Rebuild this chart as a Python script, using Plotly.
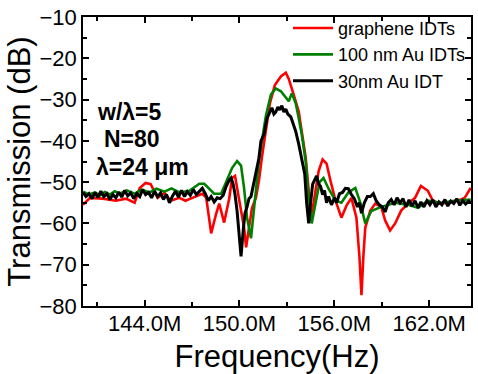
import numpy as np
import plotly.graph_objects as go

# ---- data (frequency in MHz, transmission in dB) ----
red_f = [140.10, 140.54, 141.36, 142.18, 142.81, 143.37, 143.69, 144.06, 144.38, 144.82,
         145.26, 145.64, 146.20, 146.58, 147.02, 147.65, 147.90, 148.21, 148.53, 148.72,
         149.03, 149.35, 149.53, 149.72, 149.97, 150.29, 150.42, 150.60, 150.79, 151.04,
         151.23, 151.42, 151.67, 151.92, 152.24, 152.62, 152.93, 153.12, 153.43, 153.75,
         153.94, 154.19, 154.38, 154.50, 154.69, 155.01, 155.26, 155.51, 155.76, 156.08,
         156.45, 156.77, 157.08, 157.40, 157.59, 157.72, 157.84, 157.96, 158.28, 158.59,
         158.97, 159.22, 159.53, 159.85, 160.23, 160.67, 161.11, 161.48, 161.92, 162.24,
         162.68, 163.18, 163.81, 164.25, 164.63]
red_db = [-55.5, -53.8, -54.0, -54.5, -54.0, -55.0, -51.4, -50.2, -50.5, -53.8,
          -52.6, -54.5, -53.8, -54.5, -53.8, -52.8, -53.8, -62.4, -57.6, -55.2,
          -59.8, -54.0, -49.0, -48.5, -54.0, -61.0, -65.8, -61.3, -56.3, -53.8,
          -49.7, -44.0, -38.0, -31.0, -26.5, -24.4, -23.5, -25.0, -28.8, -32.9,
          -37.7, -44.0, -52.0, -58.5, -55.0, -47.3, -44.5, -45.5, -49.7, -54.5,
          -58.6, -55.7, -53.8, -58.6, -68.0, -77.4, -68.0, -61.0, -56.9, -55.2,
          -56.0, -59.3, -61.7, -60.0, -56.9, -55.2, -53.8, -50.9, -52.1, -54.5,
          -55.2, -55.0, -54.5, -53.8, -51.4]

green_f = [140.10, 140.48, 140.86, 141.17, 141.48, 141.80, 142.11, 142.43, 142.87, 143.37,
           143.81, 144.31, 144.75, 145.26, 145.70, 146.20, 146.83, 147.46, 147.77, 148.09,
           148.40, 148.84, 149.16, 149.53, 149.85, 150.10, 150.29, 150.48, 150.73, 150.86,
           151.04, 151.23, 151.42, 151.67, 151.99, 152.30, 152.62, 152.93, 153.12, 153.31,
           153.56, 153.75, 153.94, 154.19, 154.38, 154.57, 154.82, 155.07, 155.32, 155.64,
           156.08, 156.45, 156.89, 157.33, 157.65, 157.96, 158.34, 158.97, 159.85, 160.67,
           161.30, 161.92, 162.74, 163.62, 164.63]
green_db = [-52.3, -53.0, -52.5, -53.2, -52.4, -53.0, -52.2, -52.8, -52.0, -52.8,
            -51.8, -52.5, -51.6, -52.3, -51.5, -52.5, -52.1, -50.4, -50.4, -51.6,
            -52.8, -52.8, -49.7, -46.6, -44.9, -46.0, -51.4, -58.6, -63.6, -59.0,
            -51.4, -44.9, -40.0, -34.0, -28.8, -27.3, -28.0, -29.5, -30.4, -28.5,
            -30.9, -34.5, -38.4, -45.0, -54.0, -60.0, -55.0, -50.0, -49.0, -51.6,
            -54.5, -55.0, -52.5, -51.4, -55.0, -60.0, -57.0, -56.0, -55.0, -55.5,
            -56.2, -54.5, -55.0, -54.5, -54.2]

black_f = [140.10, 140.29, 140.48, 140.67, 140.86, 141.04, 141.23, 141.42, 141.61, 141.80,
           141.99, 142.18, 142.36, 142.55, 142.74, 142.93, 143.12, 143.31, 143.50, 143.69,
           143.87, 144.06, 144.25, 144.44, 144.63, 144.82, 145.01, 145.19, 145.38, 145.57,
           145.76, 145.95, 146.14, 146.33, 146.52, 146.70, 146.89, 147.08, 147.27, 147.46,
           147.65, 147.84, 148.03, 148.21, 148.40, 148.59, 148.78, 148.97, 149.16, 149.35,
           149.47, 149.60, 149.72, 149.85, 149.97, 150.10, 150.23, 150.35, 150.48, 150.60,
           150.73, 150.86, 151.04, 151.23, 151.36, 151.55, 151.74, 151.92, 152.05, 152.18,
           152.30, 152.43, 152.55, 152.68, 152.81, 152.93, 153.06, 153.25, 153.43, 153.56,
           153.75, 153.94, 154.13, 154.25, 154.38, 154.50, 154.63, 154.75, 154.88, 155.01,
           155.13, 155.26, 155.38, 155.51, 155.64, 155.82, 156.01, 156.14, 156.33, 156.52,
           156.70, 156.89, 157.08, 157.27, 157.46, 157.59, 157.72, 157.90, 158.09, 158.28,
           158.47, 158.65, 158.84, 159.03, 159.22, 159.41, 159.60, 159.79, 159.97, 160.16,
           160.35, 160.54, 160.73, 160.92, 161.11, 161.30, 161.48, 161.67, 161.86, 162.05,
           162.24, 162.43, 162.62, 162.81, 163.00, 163.18, 163.37, 163.56, 163.75, 163.94,
           164.13, 164.31, 164.50, 164.63]
black_db = [-52.5, -53.5, -52.8, -54.0, -52.5, -53.7, -52.2, -53.5, -52.8, -54.2,
            -53.0, -53.8, -52.4, -53.6, -52.0, -53.3, -52.6, -54.0, -52.8, -53.5,
            -51.8, -53.0, -52.5, -53.8, -52.2, -53.5, -52.6, -54.2, -53.0, -55.0,
            -53.4, -52.2, -53.6, -52.0, -53.5, -52.3, -53.2, -51.8, -53.0, -52.2,
            -51.5, -52.8, -54.5, -53.5, -54.8, -53.8, -54.0, -53.2, -51.0, -49.5,
            -49.0, -50.5, -53.0, -57.0, -63.0, -68.0, -62.0, -57.5, -56.0, -54.0,
            -53.5, -51.0, -48.0, -44.2, -40.0, -38.5, -34.5, -33.0, -32.0, -33.5,
            -33.0, -31.8, -32.5, -31.5, -33.0, -32.3, -33.5, -34.2, -36.0, -37.7,
            -40.8, -44.9, -48.0, -55.0, -60.0, -55.0, -50.5, -49.5, -48.5, -50.5,
            -51.0, -53.0, -52.0, -55.0, -53.5, -55.5, -53.8, -55.0, -52.8, -52.5,
            -51.5, -51.6, -53.0, -54.0, -56.0, -55.0, -57.5, -55.0, -53.5, -53.5,
            -52.8, -54.5, -55.5, -56.0, -57.2, -55.0, -54.2, -55.5, -53.8, -55.0,
            -54.0, -56.0, -54.3, -55.8, -54.5, -56.2, -54.8, -56.0, -54.5, -55.5,
            -54.3, -56.0, -54.8, -55.5, -54.2, -55.8, -54.6, -55.2, -54.0, -55.6,
            -54.5, -55.3, -54.6, -55.0]

series_names = ["graphene IDTs", "100 nm Au IDTs", "30nm Au IDT"]
series_colors = ["#FF0000", "#008000", "#000000"]

x_range_mhz = [140.1, 164.65]
y_range = [-80, -10]

notes = ["w/\u03bb=5", "N=80", "\u03bb=24 \u03bcm"]
note_x_mhz = [143.06, 143.21, 143.84]
note_y_db = [-32.9, -39.6, -46.3]

fig = go.Figure()
for f, v, name, col, w in zip([red_f, green_f, black_f], [red_db, green_db, black_db],
                              series_names, series_colors, [2.6, 2.6, 3.0]):
    fig.add_trace(go.Scatter(x=np.array(f) * 1e6, y=v, mode="lines", name=name,
                             line=dict(color=col, width=w)))

FONT = "Arial, Liberation Sans"
axis_common = dict(showline=True, linecolor="black", linewidth=1.5, mirror="allticks",
                   ticks="inside", ticklen=6, tickwidth=1.5, tickcolor="black",
                   showgrid=False, zeroline=False,
                   tickfont=dict(family=FONT, size=22, color="black"))

fig.update_xaxes(range=[x_range_mhz[0] * 1e6, x_range_mhz[1] * 1e6], tick0=144e6, dtick=6e6,
                 tickformat=".4s", ticklabelstandoff=-3,
                 minor=dict(ticks="inside", ticklen=4, tickwidth=1.5, tickcolor="black", dtick=3e6, tick0=141e6),
                 title=dict(text="Frequency(Hz)", font=dict(family=FONT, size=31, color="black"), standoff=10),
                 **axis_common)
fig.update_yaxes(range=y_range, dtick=10,
                 minor=dict(ticks="inside", ticklen=4, tickwidth=1.5, tickcolor="black", dtick=5),
                 title=dict(text="Transmission (dB)", font=dict(family=FONT, size=31, color="black"), standoff=0),
                 **axis_common)

for t, ax_, ay_ in zip(notes, note_x_mhz, note_y_db):
    fig.add_annotation(x=ax_ * 1e6, y=ay_, text="<b>" + t + "</b>", showarrow=False, xref="x", yref="y",
                       font=dict(family=FONT, size=23, color="black"))

fig.update_layout(
    width=478, height=374,
    margin=dict(l=83, r=5, t=15, b=68),
    plot_bgcolor="white", paper_bgcolor="white",
    legend=dict(x=1, xanchor="right", y=1.025, yanchor="top", bgcolor="rgba(0,0,0,0)",
                font=dict(family=FONT, size=18, color="black"),
                tracegroupgap=0, itemwidth=40),
    showlegend=True,
)

fig.write_html("out.html")
